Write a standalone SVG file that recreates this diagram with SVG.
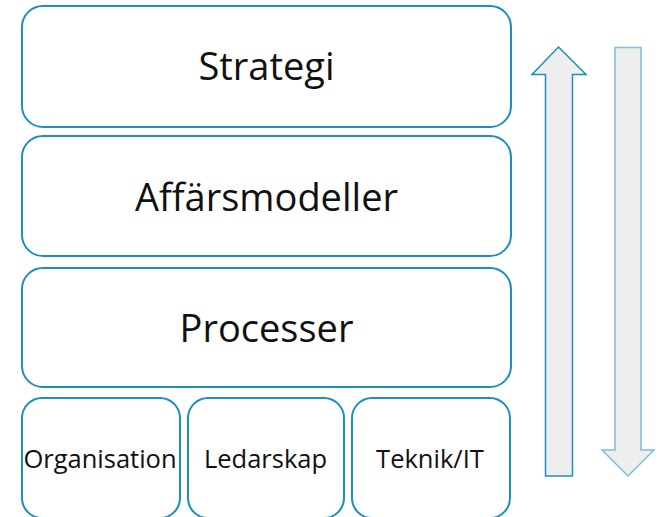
<svg xmlns="http://www.w3.org/2000/svg" width="658" height="517" viewBox="0 0 658 517">
<style>
.box{fill:#ffffff;stroke:#1a8fc0;stroke-width:2}
.t{font-family:"Open Sans","Noto Sans","Liberation Sans",sans-serif;fill:#111111;text-anchor:middle}
.big{font-size:38px}
.small{font-size:25.5px}
</style>
<rect width="658" height="517" fill="#ffffff"/>
<g id="strategi"><rect class="box" x="22" y="6" width="489" height="121" rx="21"/><text class="t big" x="266.5" y="80">Strategi</text></g>
<g id="affarsmodeller"><rect class="box" x="22" y="136" width="489" height="120" rx="21"/><text class="t big" x="266.5" y="210.5">Affärsmodeller</text></g>
<g id="processer"><rect class="box" x="22" y="268" width="489" height="119" rx="21"/><text class="t big" x="266.5" y="341.5">Processer</text></g>
<g id="organisation"><rect class="box" x="22" y="398" width="158" height="120" rx="20"/><text class="t small" x="100" y="468">Organisation</text></g>
<g id="ledarskap"><rect class="box" x="188" y="398" width="156" height="120" rx="20"/><text class="t small" x="265.5" y="468">Ledarskap</text></g>
<g id="teknik"><rect class="box" x="352" y="398" width="158" height="120" rx="20"/><text class="t small" x="430" y="468">Teknik/IT</text></g>
<g id="connectors">
<polygon points="558.5,47 586,74.5 572.5,74.5 572.5,476 545.5,476 545.5,74.5 532,74.5" fill="#eeeeee" stroke="#1a8fc0" stroke-width="1.5"/>
<polygon points="615,47.5 641,47.5 641,450 654,450 628,476 602,450 615,450" fill="#eeeeee" stroke="#7bbfdc" stroke-width="1.5"/>
</g>
</svg>
